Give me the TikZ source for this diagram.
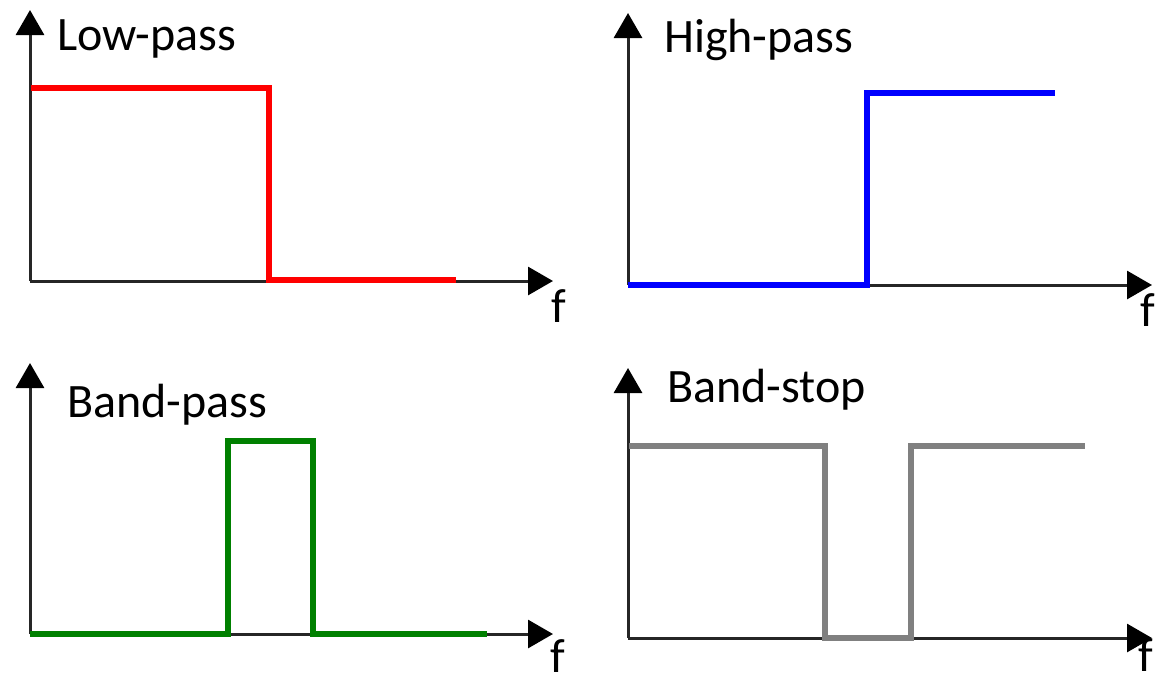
\documentclass[tikz,border=0pt]{standalone}
\usepackage{fontspec}
\setmainfont{Carlito}
\usetikzlibrary{arrows.meta}
\begin{document}
\begin{tikzpicture}[x=1pt,y=-1pt,
  axis/.style={line width=3pt,color=black!85,-{Triangle[length=25pt,width=28pt,black]}},
  resp/.style={line width=6pt,line join=miter,line cap=butt},
  title/.style={anchor=base west,inner sep=0pt,font=\fontsize{48}{57}\selectfont},
  flabel/.style={inner sep=0pt,font=\fontsize{48}{57}\selectfont}]
\useasboundingbox (0,0) rectangle (1158,683);
% ---------- Low-pass ----------
\coordinate (o1) at (30,281);
\coordinate (y1) at (30,10);
\coordinate (x1) at (553,281);
\draw[axis] (o1) -- (y1);
\draw[axis] (o1) -- (x1);
\draw[resp,red] (31,88) -- (269,88) -- (269,280) -- (456,280);
\node[title] (t1) at (57,50) {Low-pass};
\node[flabel] (f1) at (559,306) {f};
% ---------- High-pass ----------
\coordinate (o2) at (628,285);
\coordinate (y2) at (628,13);
\coordinate (x2) at (1152,285);
\draw[axis] (o2) -- (y2);
\draw[axis] (o2) -- (x2);
\draw[resp,blue] (628,285) -- (867,285) -- (867,93) -- (1055,93);
\node[title] (t2) at (664,52) {High-pass};
\node[flabel] (f2) at (1148,310) {f};
% ---------- Band-pass ----------
\coordinate (o3) at (30,634);
\coordinate (y3) at (30,363);
\coordinate (x3) at (553,634);
\draw[axis] (o3) -- (y3);
\draw[axis] (o3) -- (x3);
\draw[resp,green!50!black] (30,634) -- (228,634) -- (228,441) -- (313,441) -- (313,634) -- (487,634);
\node[title] (t3) at (67,417) {Band-pass};
\node[flabel] (f3) at (558,656) {f};
% ---------- Band-stop ----------
\coordinate (o4) at (628,638);
\coordinate (y4) at (628,368);
\coordinate (x4) at (1152,638);
\draw[axis] (o4) -- (y4);
\draw[axis] (o4) -- (x4);
\draw[resp,gray] (629,446) -- (825,446) -- (825,638) -- (911,638) -- (911,446) -- (1085,446);
\node[title] (t4) at (667,402) {Band-stop};
\node[flabel] (f4) at (1146,655) {f};
\end{tikzpicture}
\end{document}
